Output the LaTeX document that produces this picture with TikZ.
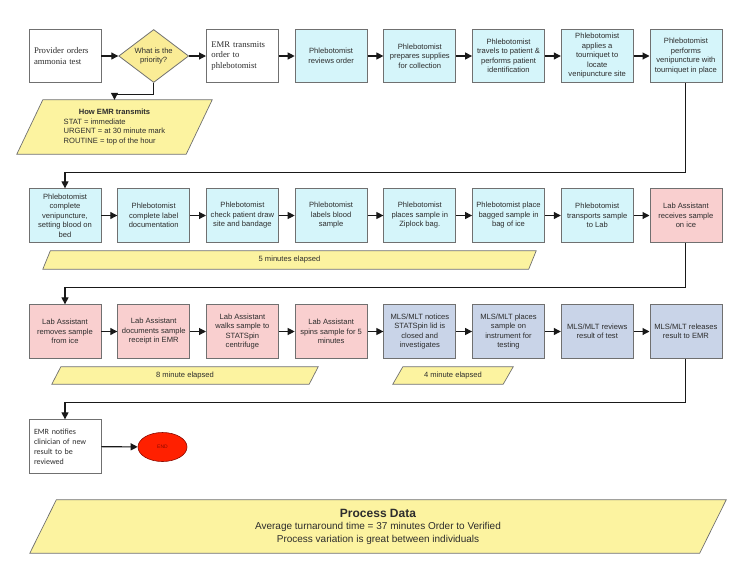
\documentclass[tikz,border=0pt]{standalone}
\usepackage{fontspec}
\setmainfont{Liberation Sans}
\newfontfamily\serifx{Liberation Serif}
\newfontfamily\calx{Carlito}
\usetikzlibrary{shapes.geometric,arrows.meta,calc}
\pgfdeclarelayer{bg}
\pgfsetlayers{bg,main}
\definecolor{cyanbox}{RGB}{213,245,250}
\definecolor{pinkbox}{RGB}{249,207,207}
\definecolor{mlsbox}{RGB}{201,212,232}
\definecolor{yellowpara}{RGB}{252,243,160}
\definecolor{yellowdia}{RGB}{250,236,150}
\definecolor{bordergray}{RGB}{112,112,112}
\definecolor{textgray}{RGB}{45,45,45}
\definecolor{linegray}{RGB}{25,25,25}
\definecolor{endred}{RGB}{255,32,0}
\definecolor{enddark}{RGB}{140,10,0}
\newcommand\paraframe[2]{%
  \begin{pgfonlayer}{bg}
  \draw[para] ([xshift=#2]#1.north west) -- (#1.north east) -- ([xshift=-#2]#1.south east) -- (#1.south west) -- cycle;
  \end{pgfonlayer}}
\tikzset{
 box/.style={draw=bordergray, line width=0.8pt, minimum width=72pt, minimum height=53.5pt, inner sep=1pt, align=center, font=\fontsize{7.6}{9.5}\selectfont, text=textgray},
 cbox/.style={box, fill=cyanbox},
 pbox/.style={box, fill=pinkbox},
 mbox/.style={box, fill=mlsbox},
 wbox/.style={box, fill=white, align=left, text width=62pt},
 arr/.style={line width=1.1pt, draw=linegray, -{Triangle[length=7pt,width=7pt]}},
 para/.style={fill=yellowpara, draw=bordergray, line width=0.7pt},
 parnode/.style={inner sep=0pt, align=center, text=textgray, font=\fontsize{7.6}{9.5}\selectfont},
}
\begin{document}
\begin{tikzpicture}[x=1pt,y=-1pt]
\useasboundingbox (0,0) rectangle (752,579);
% Row 1
\node[wbox, font=\serifx\fontsize{8.7}{10.8}\selectfont] (a1) at (65,56) {Provider orders\\ammonia test};
\node[diamond, draw=bordergray, line width=0.8pt, fill=yellowdia, minimum width=70pt, minimum height=53pt, inner sep=0pt, aspect=1.32, align=center, text=textgray, font=\fontsize{7.6}{9.5}\selectfont] (a2) at (153.7,56) {What is the\\priority?};
\node[wbox, font=\serifx\fontsize{8.7}{10.5}\selectfont] (a3) at (242.4,56) {EMR transmits\\order to\\phlebotomist};
\node[cbox] (a4) at (331.1,56) {Phlebotomist\\reviews order};
\node[cbox] (a5) at (419.8,56) {Phlebotomist\\prepares supplies\\for collection};
\node[cbox] (a6) at (508.5,56) {Phlebotomist\\travels to patient \&\\performs patient\\identification};
\node[cbox] (a7) at (597.2,56) {Phlebotomist\\applies a\\tourniquet to\\locate\\venipuncture site};
\node[cbox] (a8) at (685.9,56) {Phlebotomist\\performs\\venipuncture with\\tourniquet in place};
\foreach \i/\j in {a1/a2,a2/a3,a3/a4,a4/a5,a5/a6,a6/a7,a7/a8} \draw[arr] (\i) -- (\j);
% How EMR transmits
\node[parnode, minimum width=195pt, minimum height=54pt] (how) at (114.5,127) {\begin{tabular}{@{}l@{}}\multicolumn{1}{@{}c@{}}{\textbf{How EMR transmits}}\\STAT = immediate\\URGENT = at 30 minute mark\\ROUTINE = top of the hour\end{tabular}};
\paraframe{how}{26pt}
\draw[arr] (a2.south) -- ++(0,12) -| (how.north);
% Row 2
\node[cbox] (b1) at (65,215.5) {Phlebotomist\\complete\\venipuncture,\\setting blood on\\bed};
\node[cbox] (b2) at (153.7,215.5) {Phlebotomist\\complete label\\documentation};
\node[cbox] (b3) at (242.4,215.5) {Phlebotomist\\check patient draw\\site and bandage};
\node[cbox] (b4) at (331.1,215.5) {Phlebotomist\\labels blood\\sample};
\node[cbox] (b5) at (419.8,215.5) {Phlebotomist\\places sample in\\Ziplock bag.};
\node[cbox] (b6) at (508.5,215.5) {Phlebotomist place\\bagged sample in\\bag of ice};
\node[cbox] (b7) at (597.2,215.5) {Phlebotomist\\transports sample\\to Lab};
\node[pbox] (b8) at (685.9,215.5) {Lab Assistant\\receives sample\\on ice};
\foreach \i/\j in {b1/b2,b2/b3,b3/b4,b4/b5,b5/b6,b6/b7,b7/b8} \draw[arr] (\i) -- (\j);
\draw[arr] (a8.south) -- ++(0,89.5) -| (b1.north);
\node[parnode, minimum width=493pt, minimum height=18pt] (t5) at (289.5,260) {5 minutes elapsed};
\paraframe{t5}{7.5pt}
% Row 3
\node[pbox] (c1) at (65,331.5) {Lab Assistant\\removes sample\\from ice};
\node[pbox] (c2) at (153.7,331.5) {Lab Assistant\\documents sample\\receipt in EMR};
\node[pbox] (c3) at (242.4,331.5) {Lab Assistant\\walks sample to\\STATSpin\\centrifuge};
\node[pbox] (c4) at (331.1,331.5) {Lab Assistant\\spins sample for 5\\minutes};
\node[mbox] (c5) at (419.8,331.5) {MLS/MLT notices\\STATSpin lid is\\closed and\\investigates};
\node[mbox] (c6) at (508.5,331.5) {MLS/MLT places\\sample on\\instrument for\\testing};
\node[mbox] (c7) at (597.2,331.5) {MLS/MLT reviews\\result of test};
\node[mbox] (c8) at (685.9,331.5) {MLS/MLT releases\\result to EMR};
\foreach \i/\j in {c1/c2,c2/c3,c3/c4,c4/c5,c5/c6,c6/c7,c7/c8} \draw[arr] (\i) -- (\j);
\draw[arr] (b8.south) -- ++(0,45) -| (c1.north);
\node[parnode, minimum width=266pt, minimum height=17pt] (t8) at (185,375.5) {8 minute elapsed};
\paraframe{t8}{9pt}
\node[parnode, minimum width=120pt, minimum height=17pt] (t4) at (453,375.5) {4 minute elapsed};
\paraframe{t4}{10pt}
% Row 4
\node[wbox, font=\calx\fontsize{8}{10}\selectfont] (d1) at (65,446.5) {EMR notifies\\clinician of new\\result to be\\reviewed};
\draw[arr] (c8.south) -- ++(0,44) -| (d1.north);
\node[ellipse, draw=enddark, line width=0.6pt, fill=endred, minimum width=49pt, minimum height=29pt, inner sep=0pt, text=enddark, font=\fontsize{5}{6}\selectfont] (endn) at (162.5,447) {END};
\draw[arr] (d1) -- (endn);
% Process data
\node[parnode, minimum width=696pt, minimum height=53pt, font=\fontsize{10}{12.5}\selectfont] (pd) at (378,526.5) {{\fontsize{12}{13}\selectfont\bfseries Process Data}\\Average turnaround time = 37 minutes Order to Verified\\Process variation is great between individuals};
\paraframe{pd}{26.5pt}
\end{tikzpicture}
\end{document}
